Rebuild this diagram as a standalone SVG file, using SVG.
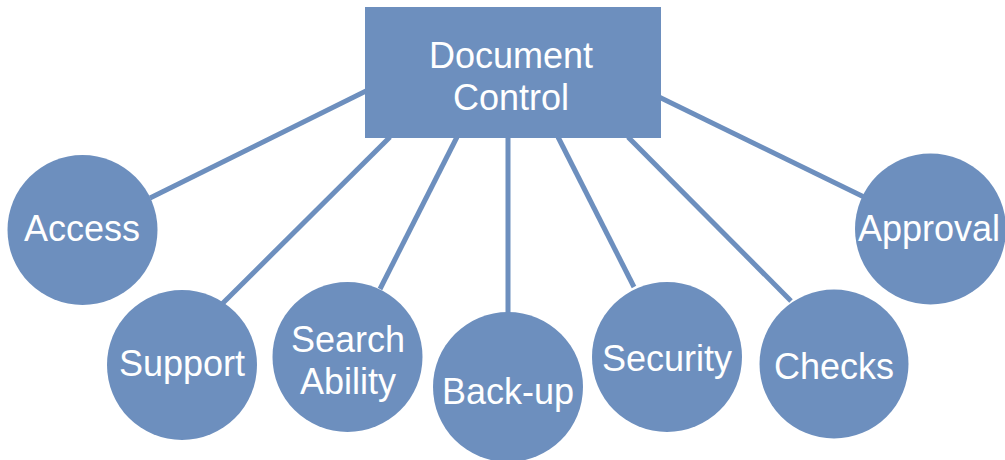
<svg xmlns="http://www.w3.org/2000/svg" width="1005" height="460" viewBox="0 0 1005 460">
  <style>
    .link { stroke: #6d8fbe; stroke-width: 5; stroke-linecap: butt; fill: none; }
    .shape { fill: #6d8fbe; }
    .label { fill: #ffffff; font-family: "Liberation Sans", Arial, sans-serif; font-size: 36px; text-anchor: middle; }
  </style>
  <rect width="1005" height="460" fill="#ffffff"/>

  <!-- connectors from the central box to each topic -->
  <g id="connectors">
    <line class="link" x1="366" y1="91" x2="150" y2="198"/>
    <line class="link" x1="390" y1="137" x2="222" y2="304"/>
    <line class="link" x1="457" y1="137" x2="380" y2="289"/>
    <line class="link" x1="508" y1="137" x2="508" y2="313"/>
    <line class="link" x1="558" y1="137" x2="634" y2="287"/>
    <line class="link" x1="628" y1="137" x2="791" y2="301"/>
    <line class="link" x1="659" y1="97" x2="864" y2="197"/>
  </g>

  <g id="document-control">
    <rect class="shape" x="365" y="7" width="296" height="131"/>
    <text class="label" x="511" y="68">Document</text>
    <text class="label" x="511" y="110">Control</text>
  </g>

  <g id="access">
    <circle class="shape" cx="82.5" cy="230" r="75"/>
    <text class="label" x="82" y="241">Access</text>
  </g>

  <g id="support">
    <circle class="shape" cx="182" cy="365" r="75"/>
    <text class="label" x="182" y="376">Support</text>
  </g>

  <g id="search-ability">
    <circle class="shape" cx="347.5" cy="357" r="75"/>
    <text class="label" x="348" y="352">Search</text>
    <text class="label" x="348" y="394">Ability</text>
  </g>

  <g id="back-up">
    <circle class="shape" cx="508" cy="387" r="75"/>
    <text class="label" x="508" y="404">Back-up</text>
  </g>

  <g id="security">
    <circle class="shape" cx="667" cy="357" r="75"/>
    <text class="label" x="667" y="371">Security</text>
  </g>

  <g id="checks">
    <circle class="shape" cx="834" cy="364" r="74.5"/>
    <text class="label" x="834" y="379">Checks</text>
  </g>

  <g id="approval">
    <circle class="shape" cx="930.5" cy="229" r="75.5"/>
    <text class="label" x="929" y="241">Approval</text>
  </g>
</svg>
